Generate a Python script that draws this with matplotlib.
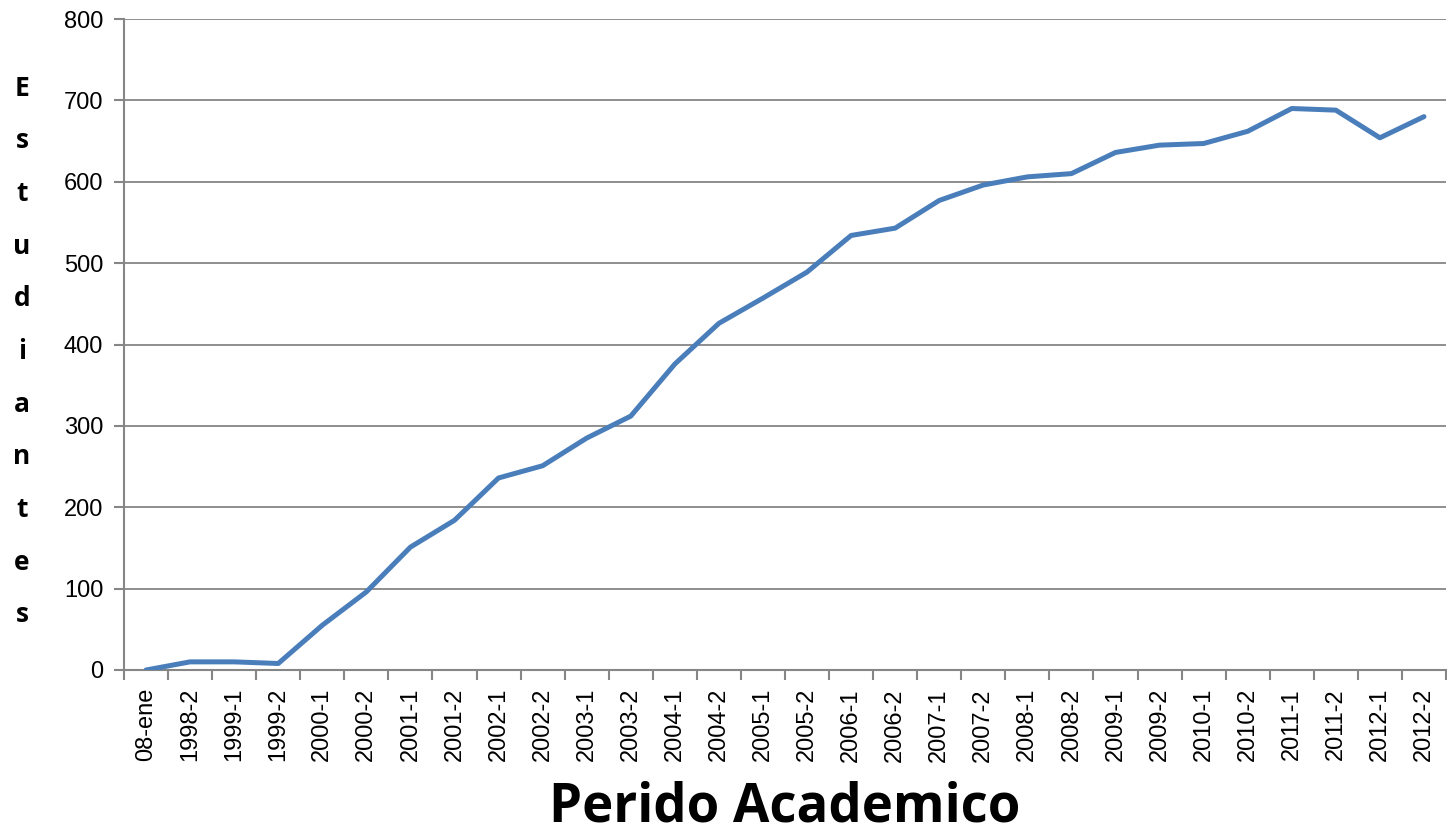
import numpy as np
import matplotlib.pyplot as plt

periodos = ["08-ene", "1998-2", "1999-1", "1999-2", "2000-1", "2000-2",
            "2001-1", "2001-2", "2002-1", "2002-2", "2003-1", "2003-2",
            "2004-1", "2004-2", "2005-1", "2005-2", "2006-1", "2006-2",
            "2007-1", "2007-2", "2008-1", "2008-2", "2009-1", "2009-2",
            "2010-1", "2010-2", "2011-1", "2011-2", "2012-1", "2012-2"]
estudiantes = [0, 10, 10, 8, 55, 96, 151, 184, 236, 251, 285, 312,
               376, 426, 457, 489, 534, 543, 577, 596, 606, 610, 636, 645,
               647, 662, 690, 688, 654, 680]

ylabel_letras = list("Estudiantes")

plt.rcParams['font.family'] = ['Liberation Sans', 'DejaVu Sans']

fig = plt.figure(figsize=(14.47, 8.36), dpi=100)
ax = fig.add_axes([124 / 1447, 1 - 670 / 836, 1322 / 1447, (670 - 19) / 836])

x = np.arange(len(periodos))
ax.plot(x, estudiantes, color="#4A7EBB", linewidth=3.6, solid_joinstyle="round",
        solid_capstyle="round", zorder=3)

ax.set_xlim(-0.5, len(periodos) - 0.5)
ax.set_ylim(0, 800)
ax.set_yticks(np.arange(0, 801, 100))
ax.set_xticks(x)
ax.set_xticklabels(periodos, rotation=90, fontsize=17)
ax.set_xticks(np.arange(-0.5, len(periodos), 1), minor=True)
ax.tick_params(axis="x", which="major", length=0, pad=13)
ax.tick_params(axis="x", which="minor", length=7, width=1.5, color="#868686")
ax.tick_params(axis="y", length=7, width=1.5, color="#868686", labelsize=17, pad=8)

ax.grid(axis="y", color="#868686", linewidth=1.3)
ax.set_axisbelow(True)
for s in ["top", "right"]:
    ax.spines[s].set_visible(False)
for s in ["left", "bottom"]:
    ax.spines[s].set_color("#868686")
    ax.spines[s].set_linewidth(1.5)

fig.text(785 / 1447, 1 - 821 / 836, "Perido Academico", ha="center", va="baseline",
         fontsize=38, fontweight="bold", family=["Open Sans", "DejaVu Sans"])

y0, paso = 88, 52.7
for i, letra in enumerate(ylabel_letras):
    fig.text(22 / 1447, 1 - (y0 + i * paso) / 836, letra, ha="center", va="center",
             fontsize=19, fontweight="bold", family=["Open Sans", "DejaVu Sans"])

fig.savefig("out.png", dpi=100)
